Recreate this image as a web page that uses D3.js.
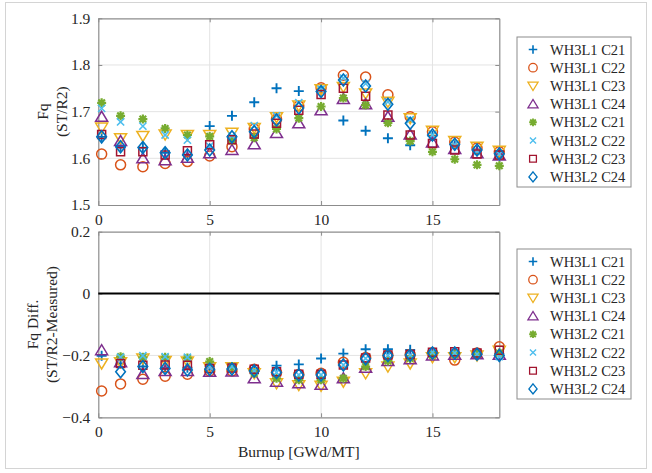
<!DOCTYPE html>
<html>
<head>
<meta charset="utf-8">
<script src="https://cdn.jsdelivr.net/npm/d3@7"></script>
<style>
  html, body { margin: 0; padding: 0; background: #fff; }
  svg { display: block; }
</style>
</head>
<body>
<svg id="chart" width="652" height="473"></svg>
<script>
// Burnup points (GWd/MT)
const burnup = [0.15, 1, 2, 3, 4, 5, 6, 7, 8, 9, 10, 11, 12, 13, 14, 15, 16, 17, 18];

const seriesNames = ["WH3L1 C21", "WH3L1 C22", "WH3L1 C23", "WH3L1 C24",
                     "WH3L2 C21", "WH3L2 C22", "WH3L2 C23", "WH3L2 C24"];

// Fq computed by ST/R2
const fqL1C21 = [1.646, 1.625, 1.623, 1.612, 1.608, 1.669, 1.691, 1.720, 1.750, 1.744, 1.745, 1.681, 1.659, 1.643, 1.628, 1.648, 1.628, 1.617, 1.608];
const fqL1C22 = [1.609, 1.586, 1.582, 1.589, 1.593, 1.605, 1.625, 1.663, 1.684, 1.712, 1.751, 1.778, 1.774, 1.736, 1.689, 1.657, 1.635, 1.622, 1.614];
const fqL1C23 = [1.666, 1.643, 1.648, 1.651, 1.650, 1.650, 1.655, 1.665, 1.688, 1.713, 1.748, 1.753, 1.739, 1.721, 1.686, 1.659, 1.637, 1.625, 1.616];
const fqL1C24 = [1.689, 1.637, 1.600, 1.596, 1.601, 1.611, 1.618, 1.630, 1.654, 1.675, 1.703, 1.727, 1.716, 1.689, 1.651, 1.634, 1.620, 1.611, 1.606];
const fqL2C21 = [1.719, 1.691, 1.684, 1.664, 1.650, 1.647, 1.638, 1.644, 1.663, 1.686, 1.711, 1.729, 1.714, 1.676, 1.637, 1.614, 1.598, 1.586, 1.584];
const fqL2C22 = [1.707, 1.678, 1.669, 1.650, 1.639, 1.626, 1.648, 1.670, 1.691, 1.719, 1.748, 1.772, 1.760, 1.721, 1.683, 1.650, 1.629, 1.615, 1.609];
const fqL2C23 = [1.651, 1.614, 1.614, 1.607, 1.616, 1.629, 1.640, 1.652, 1.675, 1.703, 1.737, 1.750, 1.733, 1.693, 1.650, 1.632, 1.618, 1.609, 1.607];
const fqL2C24 = [1.646, 1.625, 1.623, 1.612, 1.607, 1.618, 1.646, 1.657, 1.682, 1.708, 1.743, 1.768, 1.755, 1.716, 1.675, 1.650, 1.630, 1.618, 1.610];

// Fq difference (ST/R2 - Measured)
const dfL1C21 = [-0.201, -0.226, -0.236, -0.240, -0.240, -0.235, -0.240, -0.245, -0.233, -0.229, -0.210, -0.194, -0.180, -0.180, -0.182, -0.190, -0.190, -0.192, -0.195];
const dfL1C22 = [-0.315, -0.292, -0.277, -0.267, -0.261, -0.250, -0.250, -0.245, -0.255, -0.262, -0.258, -0.222, -0.207, -0.200, -0.197, -0.192, -0.215, -0.192, -0.172];
const dfL1C23 = [-0.226, -0.222, -0.210, -0.218, -0.220, -0.238, -0.238, -0.258, -0.290, -0.296, -0.298, -0.285, -0.258, -0.236, -0.226, -0.206, -0.206, -0.200, -0.185];
const dfL1C24 = [-0.183, -0.222, -0.260, -0.250, -0.250, -0.253, -0.252, -0.274, -0.285, -0.290, -0.295, -0.274, -0.240, -0.218, -0.212, -0.200, -0.198, -0.196, -0.198];
const dfL2C21 = [null, -0.204, -0.206, -0.206, -0.208, -0.220, -0.236, -0.258, -0.274, -0.279, -0.279, -0.274, -0.236, -0.218, -0.210, -0.198, -0.196, -0.194, -0.192];
const dfL2C22 = [null, -0.206, -0.201, -0.204, -0.206, -0.238, -0.236, -0.250, -0.255, -0.263, -0.263, -0.231, -0.210, -0.200, -0.199, -0.190, -0.192, -0.196, -0.204];
const dfL2C23 = [null, -0.226, -0.232, -0.231, -0.232, -0.242, -0.241, -0.245, -0.253, -0.261, -0.261, -0.231, -0.208, -0.199, -0.197, -0.190, -0.188, -0.192, -0.183];
const dfL2C24 = [null, -0.253, -0.236, -0.242, -0.247, -0.245, -0.244, -0.250, -0.255, -0.263, -0.263, -0.231, -0.211, -0.200, -0.199, -0.192, -0.192, -0.196, -0.200];

const xTicks = [0, 5, 10, 15];
const fqTicks = [1.5, 1.6, 1.7, 1.8, 1.9];
const diffTicks = [-0.4, -0.2, 0, 0.2];

const fqSeries = [fqL1C21, fqL1C22, fqL1C23, fqL1C24, fqL2C21, fqL2C22, fqL2C23, fqL2C24];
const diffSeries = [dfL1C21, dfL1C22, dfL1C23, dfL1C24, dfL2C21, dfL2C22, dfL2C23, dfL2C24];

const colors = ["#0072BD", "#D95319", "#EDB120", "#7E2F8E", "#77AC30", "#4DBEEE", "#A2142F", "#0072BD"];
const markers = ["plus", "circle", "triDown", "triUp", "asterisk", "cross", "square", "diamond"];

const SERIF = "'Liberation Serif', 'DejaVu Serif', serif";

// marker geometry: path string and stroke width
function markerPath(type) {
  switch (type) {
    case "plus": return {d: "M-5,0H5M0,-5V5", w: 1.9};
    case "circle": return {d: "M5,0A5,5 0 1,1 -5,0A5,5 0 1,1 5,0Z", w: 1.5};
    case "triDown": return {d: "M-6,-4.5L6,-4.5L0,5.5Z", w: 1.5};
    case "triUp": return {d: "M-6,4.5L6,4.5L0,-5.5Z", w: 1.5};
    case "asterisk": return {d: "M-4.5,0H4.5M0,-4.5V4.5M-3.3,-3.3L3.3,3.3M-3.3,3.3L3.3,-3.3", w: 2.2};
    case "cross": return {d: "M-3.6,-3.6L3.6,3.6M-3.6,3.6L3.6,-3.6", w: 1.6};
    case "square": return {d: "M-4,-4H4V4H-4Z", w: 1.5};
    case "diamond": return {d: "M0,-6L4.8,0L0,6L-4.8,0Z", w: 1.6};
  }
}

const svg = d3.select("#chart");

// light outer frame of the figure
svg.append("rect").attr("x", 5.5).attr("y", 2.5).attr("width", 641).attr("height", 466)
  .attr("fill", "none").attr("stroke", "#d4d4d4").attr("stroke-width", 1);

const plotLeft = 98.3, plotRight = 499.3;
const x = d3.scaleLinear().domain([0, 18]).range([plotLeft, plotRight]);

function drawPanel(cfg) {
  const y = d3.scaleLinear().domain(cfg.domain).range([cfg.bottom, cfg.top]);
  const g = svg.append("g");

  // grid
  g.append("g").selectAll("line").data(xTicks.slice(1)).join("line")
    .attr("x1", d => x(d)).attr("x2", d => x(d))
    .attr("y1", cfg.top).attr("y2", cfg.bottom)
    .attr("stroke", "#e3e3e3").attr("stroke-width", 1);
  g.append("g").selectAll("line").data(cfg.ticks.slice(1, -1)).join("line")
    .attr("x1", plotLeft).attr("x2", plotRight)
    .attr("y1", d => y(d)).attr("y2", d => y(d))
    .attr("stroke", "#e3e3e3").attr("stroke-width", 1);

  // axes with inward ticks on all four sides
  const axB = d3.axisBottom(x).tickValues(xTicks).tickSizeInner(-4).tickSizeOuter(0).tickPadding(9).tickFormat(d3.format("d"));
  const axT = d3.axisTop(x).tickValues(xTicks).tickSizeInner(-4).tickSizeOuter(0).tickFormat("");
  const axL = d3.axisLeft(y).tickValues(cfg.ticks).tickSizeInner(-4).tickSizeOuter(0).tickPadding(8).tickFormat(cfg.fmt);
  const axR = d3.axisRight(y).tickValues(cfg.ticks).tickSizeInner(-4).tickSizeOuter(0).tickFormat("");

  const styleAxis = sel => {
    sel.attr("font-family", SERIF).attr("font-size", 15.5);
    sel.select(".domain").attr("stroke", "#8c8c8c").attr("stroke-width", 1.2);
    sel.selectAll(".tick line").attr("stroke", "#8c8c8c");
    sel.selectAll(".tick text").attr("fill", "#262626");
  };
  g.append("g").attr("transform", `translate(0,${cfg.bottom})`).call(axB).call(styleAxis);
  g.append("g").attr("transform", `translate(0,${cfg.top})`).call(axT).call(styleAxis);
  g.append("g").attr("transform", `translate(${plotLeft},0)`).call(axL).call(styleAxis);
  g.append("g").attr("transform", `translate(${plotRight},0)`).call(axR).call(styleAxis);

  if (cfg.zeroLine) {
    g.append("line").attr("x1", plotLeft).attr("x2", plotRight)
      .attr("y1", y(0)).attr("y2", y(0)).attr("stroke", "#000").attr("stroke-width", 2);
  }

  // y label (two lines, rotated)
  const lab = g.append("text")
    .attr("transform", `translate(${cfg.labelX},${(cfg.top + cfg.bottom) / 2}) rotate(-90)`)
    .attr("text-anchor", "middle").attr("fill", "#262626")
    .attr("font-family", SERIF).attr("font-size", 15.5);
  lab.append("tspan").attr("x", 0).attr("dy", 0).text(cfg.label[0]);
  lab.append("tspan").attr("x", 0).attr("dy", 18.5).text(cfg.label[1]);

  // markers
  cfg.series.forEach((vals, i) => {
    const m = markerPath(markers[i]);
    g.append("g").selectAll("path")
      .data(burnup.map((b, k) => ({b, v: vals[k]})).filter(p => p.v !== null))
      .join("path")
      .attr("d", m.d)
      .attr("transform", p => `translate(${x(p.b)},${y(p.v)})`)
      .attr("fill", "none").attr("stroke", colors[i]).attr("stroke-width", m.w);
  });

  // legend
  const lg = g.append("g");
  lg.append("rect").attr("x", cfg.legend.x).attr("y", cfg.legend.y)
    .attr("width", 114).attr("height", 150)
    .attr("fill", "#fff").attr("stroke", "#8c8c8c").attr("stroke-width", 1);
  seriesNames.forEach((name, i) => {
    const cy = cfg.legend.y + 12.5 + i * 18.2;
    const m = markerPath(markers[i]);
    lg.append("path").attr("d", m.d)
      .attr("transform", `translate(${cfg.legend.x + 16},${cy}) scale(0.85)`)
      .attr("fill", "none").attr("stroke", colors[i]).attr("stroke-width", m.w);
    lg.append("text").attr("x", cfg.legend.x + 33).attr("y", cy + 5)
      .attr("fill", "#262626").attr("font-family", SERIF).attr("font-size", 14.5)
      .text(name);
  });
}

drawPanel({
  top: 18.3, bottom: 205, domain: [1.5, 1.9], ticks: fqTicks,
  fmt: d3.format(".1f"), series: fqSeries,
  label: ["Fq", "(ST/R2)"], labelX: 48,
  legend: {x: 517, y: 37}
});

drawPanel({
  top: 231.7, bottom: 417.3, domain: [-0.4, 0.2], ticks: diffTicks,
  fmt: d => d === 0 ? "0" : d3.format(".1f")(d), series: diffSeries,
  label: ["Fq Diff.", "(ST/R2-Measured)"], labelX: 38, zeroLine: true,
  legend: {x: 517, y: 249}
});

svg.append("text").attr("x", (plotLeft + plotRight) / 2).attr("y", 457)
  .attr("text-anchor", "middle").attr("fill", "#262626")
  .attr("font-family", SERIF).attr("font-size", 15.5)
  .text("Burnup [GWd/MT]");
</script>
</body>
</html>
